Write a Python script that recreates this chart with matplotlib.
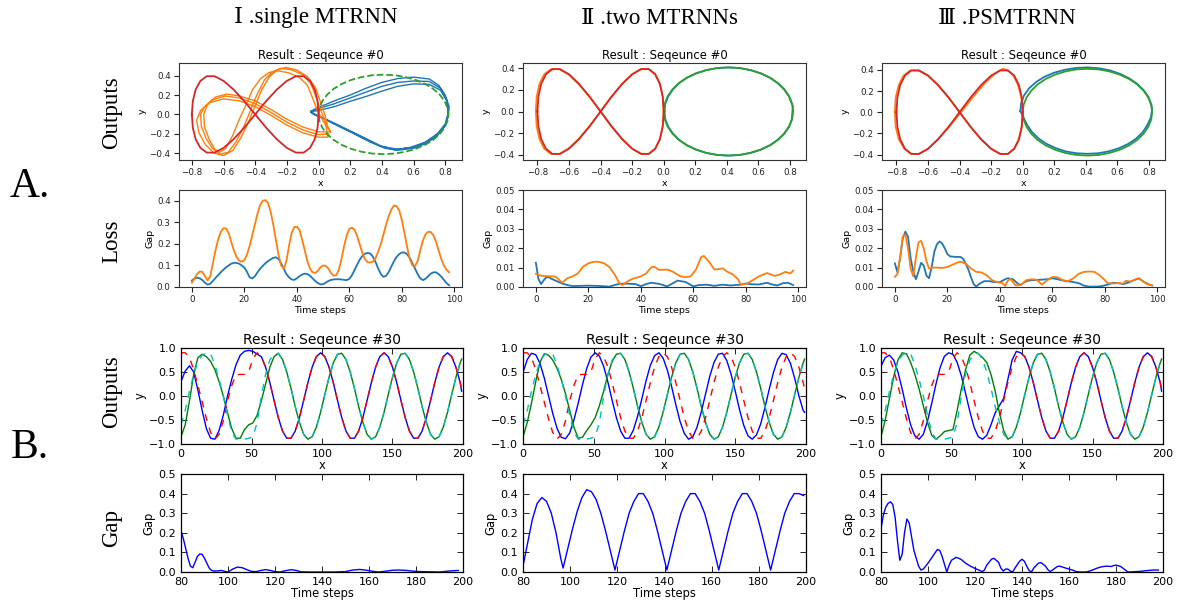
import numpy as np
import matplotlib
matplotlib.use("Agg")
import matplotlib.pyplot as plt

# ---------------- DATA ----------------
# Row A: 2-D trajectories (Sequence #0)
FIG8_X = [-0.8, -0.794, -0.776, -0.746, -0.706, -0.657, -0.6, -0.537, -0.469, -0.4, -0.331, -0.263, -0.2, -0.143, -0.094, -0.054, -0.024, -0.006, 0.0,
          -0.006, -0.024, -0.054, -0.094, -0.143, -0.2, -0.263, -0.331, -0.4, -0.469, -0.537, -0.6, -0.657, -0.706, -0.746, -0.776, -0.794, -0.8]
FIG8_Y = [0, 0.137, 0.257, 0.346, 0.394, 0.394, 0.346, 0.257, 0.137, 0, -0.137, -0.257, -0.346, -0.394, -0.394, -0.346, -0.257, -0.137, 0,
          0.137, 0.257, 0.346, 0.394, 0.394, 0.346, 0.257, 0.137, 0, -0.137, -0.257, -0.346, -0.394, -0.394, -0.346, -0.257, -0.137, 0]
ELL_X = [0, 0.006, 0.025, 0.055, 0.096, 0.146, 0.205, 0.27, 0.339, 0.41, 0.481, 0.55, 0.615, 0.674, 0.724, 0.765, 0.795, 0.814, 0.82,
         0.814, 0.795, 0.765, 0.724, 0.674, 0.615, 0.55, 0.481, 0.41, 0.339, 0.27, 0.205, 0.146, 0.096, 0.055, 0.025, 0.006, 0]
ELL_Y = [0, 0.071, 0.14, 0.205, 0.264, 0.314, 0.355, 0.385, 0.404, 0.41, 0.404, 0.385, 0.355, 0.314, 0.264, 0.205, 0.14, 0.071, 0,
         -0.071, -0.14, -0.205, -0.264, -0.314, -0.355, -0.385, -0.404, -0.41, -0.404, -0.385, -0.355, -0.314, -0.264, -0.205, -0.14, -0.071, 0]

# single MTRNN outputs
BLUE1_X = [-0.05, 0.0, 0.05, 0.1, 0.2, 0.3, 0.4, 0.5, 0.6, 0.7, 0.76, 0.8, 0.825, 0.82, 0.8, 0.75, 0.68, 0.6, 0.5, 0.42, 0.32, 0.2, 0.1, 0.03, -0.03,
           -0.05, 0.0, 0.1, 0.2, 0.3, 0.4, 0.5, 0.6, 0.7, 0.77, 0.81, 0.82, 0.81, 0.77, 0.7, 0.6, 0.5, 0.4, 0.3, 0.2, 0.1, 0.02, -0.04,
           -0.05, 0.0, 0.1, 0.2, 0.3, 0.4, 0.5, 0.6, 0.7, 0.77, 0.81, 0.82, 0.8, 0.75, 0.67, 0.58, 0.48, 0.38, 0.28, 0.18, 0.08, 0.0, -0.04]
BLUE1_Y = [0.03, 0.075, 0.105, 0.14, 0.2, 0.27, 0.33, 0.37, 0.385, 0.365, 0.3, 0.2, 0.08, -0.02, -0.12, -0.22, -0.3, -0.35, -0.37, -0.35, -0.28, -0.18, -0.1, -0.04, 0.0,
           0.03, 0.06, 0.11, 0.17, 0.23, 0.29, 0.33, 0.345, 0.34, 0.27, 0.15, 0.03, -0.08, -0.18, -0.27, -0.34, -0.36, -0.33, -0.25, -0.17, -0.09, -0.03, 0.01,
           0.03, 0.04, 0.08, 0.135, 0.185, 0.24, 0.29, 0.315, 0.31, 0.25, 0.14, 0.02, -0.1, -0.2, -0.29, -0.34, -0.365, -0.32, -0.24, -0.16, -0.08, -0.02, 0.02]
ORANGE1_X = [0.065, 0.0, -0.1, -0.2, -0.3, -0.4, -0.5, -0.59, -0.67, -0.72, -0.745, -0.74, -0.71, -0.67, -0.62, -0.57, -0.52, -0.47, -0.43, -0.39,
             -0.34, -0.29, -0.24, -0.17, -0.1, -0.05, -0.02, 0.01, 0.04,
             0.06, 0.0, -0.1, -0.2, -0.3, -0.4, -0.5, -0.6, -0.69, -0.745, -0.77, -0.755, -0.715, -0.66, -0.6, -0.54, -0.49, -0.44, -0.4, -0.36,
             -0.31, -0.26, -0.21, -0.14, -0.07, -0.02, 0.01, 0.04, 0.055,
             0.075, 0.0, -0.1, -0.2, -0.3, -0.4, -0.5, -0.58, -0.65, -0.7, -0.725, -0.72, -0.69, -0.655, -0.625, -0.585, -0.54, -0.5, -0.455, -0.415,
             -0.365, -0.315, -0.26, -0.19, -0.12, -0.07, -0.04, -0.01, 0.03, 0.075]
ORANGE1_Y = [-0.2, -0.21, -0.16, -0.08, 0.02, 0.11, 0.17, 0.19, 0.15, 0.08, 0.0, -0.12, -0.25, -0.35, -0.41, -0.39, -0.28, -0.12, 0.04, 0.2,
             0.36, 0.44, 0.475, 0.46, 0.41, 0.32, 0.2, 0.06, -0.06,
             -0.235, -0.235, -0.19, -0.11, -0.01, 0.08, 0.14, 0.16, 0.12, 0.04, -0.06, -0.19, -0.31, -0.4, -0.425, -0.37, -0.24, -0.07, 0.09, 0.25,
             0.39, 0.46, 0.485, 0.46, 0.39, 0.28, 0.14, 0.0, -0.11,
             -0.18, -0.18, -0.13, -0.05, 0.05, 0.14, 0.19, 0.21, 0.18, 0.11, 0.0, -0.13, -0.26, -0.36, -0.39, -0.35, -0.21, -0.05, 0.11, 0.26,
             0.37, 0.43, 0.45, 0.43, 0.38, 0.3, 0.18, 0.05, -0.07, -0.18]

# two MTRNNs outputs
BLUE2_X = [0.005, 0.01, 0.028, 0.058, 0.098, 0.148, 0.206, 0.27, 0.339, 0.41, 0.481, 0.55, 0.614, 0.673, 0.722, 0.763, 0.794, 0.812, 0.818,
           0.812, 0.794, 0.763, 0.722, 0.673, 0.614, 0.55, 0.481, 0.41, 0.339, 0.27, 0.206, 0.148, 0.098, 0.058, 0.028, 0.01, 0.005]
BLUE2_Y = [0.0, 0.071, 0.14, 0.205, 0.264, 0.314, 0.355, 0.385, 0.404, 0.41, 0.404, 0.385, 0.355, 0.314, 0.264, 0.205, 0.14, 0.071, 0.05,
           -0.071, -0.14, -0.205, -0.264, -0.314, -0.355, -0.385, -0.404, -0.41, -0.404, -0.385, -0.355, -0.314, -0.264, -0.205, -0.14, -0.071, 0.0]
ORANGE2_X = [-0.81, -0.805, -0.787, -0.757, -0.715, -0.663, -0.604, -0.54, -0.47, -0.4, -0.331, -0.263, -0.2, -0.143, -0.094, -0.054, -0.024, -0.006, 0.0,
             -0.006, -0.024, -0.054, -0.094, -0.143, -0.2, -0.263, -0.331, -0.4, -0.47, -0.54, -0.604, -0.663, -0.715, -0.757, -0.787, -0.805, -0.81]
ORANGE2_Y = [0, 0.137, 0.257, 0.346, 0.392, 0.394, 0.346, 0.257, 0.137, 0, -0.137, -0.257, -0.346, -0.394, -0.394, -0.346, -0.257, -0.137, 0,
             0.137, 0.257, 0.346, 0.394, 0.396, 0.346, 0.257, 0.137, 0, -0.137, -0.257, -0.346, -0.396, -0.394, -0.346, -0.257, -0.137, 0]

# PSMTRNN outputs
BLUE3_X = [-0.015, -0.01, 0.008, 0.04, 0.083, 0.135, 0.197, 0.265, 0.337, 0.41, 0.483, 0.553, 0.617, 0.677, 0.727, 0.768, 0.798, 0.815, 0.82,
           0.812, 0.79, 0.76, 0.718, 0.668, 0.61, 0.545, 0.478, 0.41, 0.34, 0.272, 0.21, 0.152, 0.102, 0.06, 0.03, 0.008, -0.015]
BLUE3_Y = [0.01, 0.085, 0.158, 0.225, 0.283, 0.332, 0.372, 0.4, 0.418, 0.423, 0.415, 0.395, 0.362, 0.318, 0.265, 0.205, 0.14, 0.07, 0.03,
           -0.05, -0.12, -0.19, -0.25, -0.3, -0.34, -0.37, -0.388, -0.393, -0.388, -0.37, -0.34, -0.3, -0.25, -0.19, -0.125, -0.06, 0.01]
ORANGE3_X = [-0.81, -0.805, -0.785, -0.755, -0.712, -0.66, -0.6, -0.537, -0.469, -0.4, -0.331, -0.263, -0.2, -0.143, -0.094, -0.054, -0.024, -0.006, 0.0,
             -0.008, -0.03, -0.06, -0.1, -0.128, -0.18, -0.243, -0.311, -0.385, -0.465, -0.537, -0.6, -0.657, -0.706, -0.75, -0.785, -0.805, -0.81]
ORANGE3_Y = [0, 0.137, 0.257, 0.346, 0.394, 0.394, 0.346, 0.257, 0.137, 0, -0.137, -0.257, -0.346, -0.394, -0.394, -0.346, -0.257, -0.137, 0,
             0.137, 0.257, 0.35, 0.4, 0.41, 0.36, 0.27, 0.15, 0.01, -0.137, -0.257, -0.346, -0.394, -0.394, -0.346, -0.257, -0.137, 0]

# Row A: loss curves
LOSS1_T = list(range(99))
LOSS1_BLUE = [.03, .04, .043, .04, .032, .02, .011, .015, .028, .042, .055, .068, .08, .091, .1, .108, .112, .112, .108, .1,
              .09, .07, .045, .04, .05, .068, .085, .098, .11, .12, .128, .135, .138, .13, .11, .085, .06, .045, .035, .033,
              .04, .05, .058, .062, .06, .052, .04, .028, .018, .012, .013, .02, .028, .033, .035, .036, .036, .035, .033, .032,
              .038, .055, .08, .105, .128, .145, .155, .158, .155, .14, .115, .085, .06, .047, .052, .07, .095, .12, .14, .153,
              .16, .16, .152, .135, .11, .085, .06, .04, .032, .038, .05, .062, .068, .068, .06, .048, .033, .018, .008]
LOSS1_ORANGE = [.02, .04, .06, .072, .07, .05, .03, .05, .11, .17, .22, .255, .272, .272, .25, .21, .17, .14, .122, .117,
                .125, .15, .19, .24, .29, .34, .38, .4, .403, .39, .35, .29, .22, .15, .1, .085, .12, .19, .25, .278,
                .28, .265, .22, .17, .12, .085, .068, .065, .075, .092, .1, .098, .085, .065, .052, .055, .08, .13, .19, .24,
                .27, .275, .265, .235, .195, .155, .128, .115, .113, .118, .135, .165, .2, .245, .29, .33, .36, .378, .375, .355,
                .31, .25, .185, .13, .1, .097, .12, .17, .215, .245, .256, .255, .24, .21, .17, .13, .1, .08, .068]

LOSS2_BLUE_T = [0, 1, 2, 3, 4, 5, 6, 8, 10, 12, 14, 17, 20, 23, 26, 28, 30, 32, 35, 38, 40, 42, 44, 47, 50, 52, 54, 57, 60, 62,
                65, 68, 71, 74, 78, 80, 82, 85, 88, 90, 92, 94, 96, 98]
LOSS2_BLUE = [0.0125, 0.004, 0.0015, 0.0035, 0.005, 0.005, 0.0042, 0.003, 0.0018, 0.001, 0.0005, 0.0006, 0.0007, 0.0006, 0.0004,
              0.0002, 0.001, 0.0017, 0.0017, 0.0015, 0.0004, 0.0015, 0.0022, 0.0016, 0.0003, 0.0018, 0.0033, 0.0026, 0.0003, 0.001,
              0.0012, 0.0006, 0.0012, 0.0008, 0.0012, 0.0018, 0.0014, 0.0013, 0.0022, 0.0013, 0.0008, 0.0019, 0.0022, 0.001]
LOSS2_ORANGE_T = [0, 2, 5, 7, 8, 10, 12, 14, 16, 18, 20, 22, 24, 26, 28, 30, 32, 33, 35, 37, 40, 42, 44, 45, 47, 50, 52, 55, 57, 59,
                  61, 63, 64, 66, 68, 70, 71, 73, 75, 77, 78, 80, 82, 85, 88, 90, 91, 93, 95, 97, 98]
LOSS2_ORANGE = [0.0068, 0.0058, 0.0055, 0.0055, 0.0048, 0.0022, 0.0045, 0.0055, 0.007, 0.0105, 0.0122, 0.013, 0.013, 0.0122, 0.0103,
                0.0065, 0.0015, 0.001, 0.003, 0.0043, 0.0055, 0.007, 0.0102, 0.0105, 0.0088, 0.009, 0.008, 0.0055, 0.005, 0.0055,
                0.009, 0.0155, 0.016, 0.013, 0.009, 0.0093, 0.0097, 0.0078, 0.0065, 0.004, 0.0013, 0.0015, 0.003, 0.0055, 0.0072,
                0.0062, 0.0057, 0.0065, 0.0078, 0.007, 0.0085]

LOSS3_BLUE_T = [0, 1, 2, 3, 4, 5, 6, 7, 8, 9, 10, 11, 12, 13, 14, 15, 16, 17, 18, 19, 20, 21, 23, 25, 26, 27, 28, 29, 30, 31, 32,
                34, 36, 38, 40, 42, 43, 45, 47, 48, 50, 52, 55, 58, 60, 62, 65, 67, 70, 72, 74, 77, 79, 81, 83, 85, 87, 89, 91, 93,
                95, 97, 98]
LOSS3_BLUE = [0.0122, 0.0075, 0.015, 0.025, 0.0285, 0.026, 0.015, 0.008, 0.004, 0.008, 0.0125, 0.011, 0.006, 0.0045, 0.01,
              0.018, 0.022, 0.0235, 0.0225, 0.02, 0.017, 0.0158, 0.0155, 0.0155, 0.0145, 0.012, 0.009, 0.005, 0.0015, 0.0002,
              0.0015, 0.003, 0.003, 0.0025, 0.0025, 0.004, 0.0045, 0.004, 0.0015, 0.0012, 0.003, 0.0035, 0.0037, 0.004, 0.0045,
              0.004, 0.003, 0.0028, 0.002, 0.0007, 0.0002, 0.0002, 0.0005, 0.0012, 0.0022, 0.002, 0.0015, 0.0023, 0.0035, 0.0045,
              0.0025, 0.0012, 0.0008]
LOSS3_ORANGE_T = [0, 1, 2, 3, 4, 5, 6, 7, 8, 9, 10, 11, 12, 13, 14, 16, 18, 20, 22, 24, 25, 27, 29, 31, 33, 35, 37, 39, 41, 42,
                  43, 44, 45, 46, 48, 50, 52, 54, 56, 58, 60, 62, 64, 66, 68, 70, 72, 74, 76, 78, 80, 81, 83, 85, 87, 88, 90, 92,
                  93, 95, 96, 97, 98]
LOSS3_ORANGE = [0.0052, 0.0068, 0.015, 0.026, 0.027, 0.02, 0.0095, 0.0055, 0.015, 0.023, 0.0238, 0.02, 0.0135, 0.0095, 0.01,
                0.01, 0.0098, 0.0103, 0.0115, 0.0127, 0.013, 0.012, 0.0095, 0.0078, 0.0075, 0.006, 0.0035, 0.0025, 0.002, 0.0005,
                0.0032, 0.0042, 0.0025, 0.0008, 0.001, 0.0035, 0.004, 0.0038, 0.0012, 0.0035, 0.0052, 0.005, 0.0035, 0.003, 0.0045,
                0.0068, 0.0078, 0.008, 0.0078, 0.006, 0.0035, 0.002, 0.0018, 0.002, 0.0018, 0.0032, 0.0028, 0.0042, 0.0043, 0.0025,
                0.0015, 0.0012, 0.0008]

# Row B: time series (Sequence #30), sampled every 3 steps plus the final step
TB = list(range(0, 199, 3)) + [199]
TARGET_1 = [0.9, 0.9, 0.8, 0.55, 0.22, -0.12, -0.47, -0.76, -0.9, -0.8, -0.52, -0.1, 0.22, 0.44, 0.45, 0.45, 0.5, 0.78,
            0.9, 0.82, 0.6, 0.28, -0.09, -0.45, -0.73, -0.88, -0.88, -0.73, -0.45, -0.09, 0.28, 0.6, 0.82,
            0.9, 0.82, 0.6, 0.28, -0.09, -0.45, -0.73, -0.88, -0.88, -0.73, -0.45, -0.09, 0.28, 0.6, 0.82,
            0.9, 0.82, 0.6, 0.28, -0.09, -0.45, -0.73, -0.88, -0.88, -0.73, -0.45, -0.09, 0.28, 0.6, 0.82,
            0.9, 0.82, 0.6, 0.28, 0.16]
TARGET_2 = [-0.6, -0.3, 0.1, 0.45, 0.72, 0.85, 0.9, 0.88, 0.65, 0.35, 0.0, -0.4, -0.75, -0.9, -0.9, -0.9, -0.88, -0.85, -0.55,
            0.0, 0.45, 0.75, 0.87,
            0.89, 0.76, 0.5, 0.16, -0.22, -0.55, -0.8, -0.9, -0.85, -0.65, -0.34, 0.03, 0.39, 0.69, 0.87,
            0.89, 0.76, 0.5, 0.16, -0.22, -0.55, -0.8, -0.9, -0.85, -0.65, -0.34, 0.03, 0.39, 0.69, 0.87,
            0.89, 0.76, 0.5, 0.16, -0.22, -0.55, -0.8, -0.9, -0.85, -0.65, -0.34, 0.03, 0.39, 0.69, 0.76]
OUT1_SINGLE = [0.3, 0.52, 0.63, 0.5, 0.12, -0.3, -0.68, -0.88, -0.9, -0.72, -0.4, 0.0, 0.35, 0.65, 0.85, 0.93, 0.95, 0.93, 0.87,
               0.82, 0.6, 0.28, -0.09, -0.45, -0.73, -0.88, -0.88, -0.73, -0.45, -0.09, 0.28, 0.6, 0.82,
               0.9, 0.82, 0.6, 0.28, -0.09, -0.45, -0.73, -0.88, -0.88, -0.73, -0.45, -0.09, 0.28, 0.6, 0.82,
               0.9, 0.82, 0.6, 0.28, -0.09, -0.45, -0.73, -0.88, -0.88, -0.73, -0.45, -0.09, 0.28, 0.6, 0.82,
               0.9, 0.82, 0.6, 0.28, 0.1]
OUT2_SINGLE = [-0.85, -0.6, -0.1, 0.45, 0.8, 0.87, 0.82, 0.72, 0.55, 0.3, 0.0, -0.35, -0.68, -0.88, -0.88, -0.7, -0.6, -0.56,
               -0.4, -0.1, 0.25, 0.6, 0.82,
               0.89, 0.76, 0.5, 0.16, -0.22, -0.55, -0.8, -0.9, -0.85, -0.65, -0.34, 0.03, 0.39, 0.69, 0.87,
               0.89, 0.76, 0.5, 0.16, -0.22, -0.55, -0.8, -0.9, -0.85, -0.65, -0.34, 0.03, 0.39, 0.69, 0.87,
               0.89, 0.76, 0.5, 0.16, -0.22, -0.55, -0.8, -0.9, -0.85, -0.65, -0.34, 0.03, 0.39, 0.69, 0.77]
OUT1_TWO = [0.49, 0.76, 0.89, 0.86, 0.68, 0.38, 0.01, -0.36, -0.67, -0.86, -0.89, -0.77, -0.5, -0.15, 0.23, 0.57, 0.81, 0.9,
            0.83, 0.62, 0.29, -0.09, -0.45, -0.73, -0.88, -0.88, -0.71, -0.42, -0.06, 0.32, 0.64, 0.84, 0.9, 0.79,
            0.54, 0.2, -0.18, -0.53, -0.78, -0.9, -0.85, -0.65, -0.33, 0.04, 0.41, 0.7, 0.87, 0.89, 0.74, 0.46,
            0.1, -0.28, -0.61, -0.83, -0.9, -0.81, -0.58, -0.24, 0.14, 0.49, 0.76, 0.89, 0.86, 0.68, 0.37, 0.0,
            -0.3, -0.34]
OUT2_TWO = [-0.85, -0.55, -0.15, 0.3, 0.7, 0.88, 0.85, 0.75, 0.58, 0.35, 0.05, -0.3, -0.65, -0.88, -0.86, -0.72, -0.6, -0.45,
            -0.2, 0.1, 0.45, 0.72, 0.87,
            0.89, 0.76, 0.5, 0.16, -0.22, -0.55, -0.8, -0.9, -0.85, -0.65, -0.34, 0.03, 0.39, 0.69, 0.87,
            0.89, 0.76, 0.5, 0.16, -0.22, -0.55, -0.8, -0.9, -0.85, -0.65, -0.34, 0.03, 0.39, 0.69, 0.87,
            0.89, 0.76, 0.5, 0.16, -0.22, -0.55, -0.8, -0.9, -0.85, -0.65, -0.34, 0.03, 0.39, 0.69, 0.77]
OUT1_PS = [0.62, 0.8, 0.85, 0.75, 0.5, 0.15, -0.25, -0.6, -0.83, -0.9, -0.8, -0.52, -0.15, 0.25, 0.6, 0.83, 0.9, 0.87, 0.7,
           0.42, 0.05, -0.32, -0.65, -0.85, -0.9, -0.82, -0.6, -0.35, -0.2, -0.05, 0.35, 0.75, 0.93, 0.9,
           0.82, 0.6, 0.28, -0.09, -0.45, -0.73, -0.88, -0.88, -0.73, -0.45, -0.09, 0.28, 0.6, 0.82,
           0.9, 0.82, 0.6, 0.28, -0.09, -0.45, -0.73, -0.88, -0.88, -0.73, -0.45, -0.09, 0.28, 0.6, 0.82,
           0.9, 0.82, 0.6, 0.28, 0.1]
OUT2_PS = [-0.85, -0.5, -0.05, 0.4, 0.75, 0.9, 0.88, 0.7, 0.45, 0.15, -0.2, -0.55, -0.82, -0.9, -0.83, -0.74, -0.72, -0.7,
           -0.3, 0.15, 0.55, 0.85, 0.93, 0.88, 0.8, 0.7, 0.45, 0.1, -0.35, -0.72, -0.9, -0.85,
           -0.65, -0.34, 0.03, 0.39, 0.69, 0.87,
           0.89, 0.76, 0.5, 0.16, -0.22, -0.55, -0.8, -0.9, -0.85, -0.65, -0.34, 0.03, 0.39, 0.69, 0.87,
           0.89, 0.76, 0.5, 0.16, -0.22, -0.55, -0.8, -0.9, -0.85, -0.65, -0.34, 0.03, 0.39, 0.69, 0.77]

# Row B: gap curves
GAP1_T = [80, 81, 82, 83, 84, 85, 86, 87, 88, 89, 90, 91, 92, 93, 94, 96, 97, 99, 100, 102, 104, 106, 108, 110, 112,
          114, 116, 118, 120, 122, 125, 127, 129, 131, 135, 140, 145, 150, 153, 156, 159, 162, 164, 167, 170,
          173, 176, 179, 182, 186, 190, 194, 198]
GAP1 = [0.21, 0.17, 0.12, 0.07, 0.03, 0.022, 0.05, 0.08, 0.092, 0.09, 0.07, 0.045, 0.02, 0.008, 0.005, 0.006, 0.008, 0.002,
        0.0, 0.015, 0.025, 0.022, 0.012, 0.003, 0.002, 0.008, 0.012, 0.008, 0.002, 0.0, 0.008, 0.012, 0.008, 0.001, 0.0,
        0.0, 0.0, 0.002, 0.01, 0.013, 0.009, 0.003, 0.0, 0.004, 0.009, 0.01, 0.008, 0.004, 0.002, 0.001, 0.0, 0.005, 0.008]
GAP2_T = [80, 82, 84, 86, 88, 90, 92, 94, 96, 97, 99, 101, 103, 105, 107, 109, 111, 113, 115, 117, 119, 121, 123, 125, 127,
          129, 131, 133, 135, 137, 139, 141, 143, 145, 147, 149, 151, 153, 155, 157, 159, 161, 163, 165, 167, 169, 171,
          173, 175, 177, 179, 181, 183, 185, 187, 189, 191, 193, 195, 197, 199]
GAP2 = [0.03, 0.15, 0.27, 0.35, 0.38, 0.36, 0.3, 0.2, 0.07, 0.02,
        0.12, 0.22, 0.31, 0.38, 0.42, 0.41, 0.37, 0.3, 0.21, 0.11, 0.01,
        0.11, 0.21, 0.3, 0.36, 0.4, 0.4, 0.36, 0.3, 0.21, 0.11, 0.01,
        0.11, 0.21, 0.3, 0.36, 0.4, 0.4, 0.36, 0.3, 0.21, 0.11, 0.01,
        0.11, 0.21, 0.3, 0.36, 0.4, 0.4, 0.36, 0.3, 0.21, 0.11, 0.01,
        0.11, 0.21, 0.3, 0.36, 0.4, 0.4, 0.39]
GAP3_T = [80, 81, 82, 83, 84, 85, 86, 87, 88, 89, 90, 91, 92, 93, 94, 95, 96, 97, 98, 100, 102, 104, 105, 106, 107, 108,
          109, 110, 112, 114, 116, 118, 120, 122, 123, 124, 125, 127, 128, 130, 131, 132, 133, 134, 135, 136, 137, 139,
          140, 141, 142, 143, 144, 145, 147, 148, 150, 151, 152, 153, 155, 156, 158, 160, 162, 163, 165, 167, 168, 170,
          172, 174, 176, 178, 179, 180, 182, 184, 185, 187, 190, 193, 196, 198]
GAP3 = [0.22, 0.29, 0.33, 0.35, 0.358, 0.345, 0.28, 0.16, 0.06, 0.09, 0.2, 0.27, 0.25, 0.18, 0.11, 0.07, 0.03, 0.01, 0.015,
        0.045, 0.08, 0.115, 0.11, 0.08, 0.04, 0.0, 0.035, 0.06, 0.075, 0.065, 0.045, 0.03, 0.018, 0.008, 0.002, 0.01,
        0.035, 0.065, 0.07, 0.05, 0.02, 0.005, 0.015, 0.015, 0.005, 0.0, 0.02, 0.055, 0.065, 0.055, 0.03, 0.008, 0.0,
        0.02, 0.045, 0.048, 0.03, 0.012, 0.002, 0.01, 0.028, 0.03, 0.022, 0.015, 0.008, 0.002, 0.0, 0.0, 0.002, 0.01,
        0.02, 0.027, 0.03, 0.028, 0.033, 0.035, 0.028, 0.01, 0.0, 0.001, 0.003, 0.007, 0.01, 0.01]

COL_TITLES = ["Ⅰ .single MTRNN", "Ⅱ .two MTRNNs", "Ⅲ .PSMTRNN"]
ROW_LABELS = ["Outputs", "Loss", "Outputs", "Gap"]
SECTION_LABELS = ["A.", "B."]

# ---------------- FIGURE ----------------
W, H = 1177, 605
fig = plt.figure(figsize=(W / 100, H / 100), dpi=100)


def box(l, t, r, b):
    return [l / W, 1 - b / H, (r - l) / W, (b - t) / H]


C0, C1, C2, C3 = "#1f77b4", "#ff7f0e", "#2ca02c", "#d62728"
SERIF = ["Liberation Serif", "DejaVu Serif", "Noto Sans CJK SC"]


def style_a(ax):
    ax.tick_params(labelsize=6.3, length=3.5, width=0.8, direction="out", pad=2.5, colors="#222222")
    for s in ax.spines.values():
        s.set_linewidth(0.8)
        s.set_color("#333333")


def style_b(ax):
    ax.tick_params(labelsize=8, length=4, width=0.6, direction="in", top=True, right=True, pad=3.5)
    for s in ax.spines.values():
        s.set_linewidth(0.9)
        s.set_color("black")


cols_a = [(179, 462), (523, 806), (882, 1165)]
cols_b = [(181, 463), (523, 806), (881, 1163)]

traj = [
    dict(bx=BLUE1_X, by=BLUE1_Y, ox=ORANGE1_X, oy=ORANGE1_Y, gdash=True, lw=1.0),
    dict(bx=BLUE2_X, by=BLUE2_Y, ox=ORANGE2_X, oy=ORANGE2_Y, gdash=False, lw=1.3),
    dict(bx=BLUE3_X, by=BLUE3_Y, ox=ORANGE3_X, oy=ORANGE3_Y, gdash=False, lw=1.3),
]
losses = [
    (LOSS1_T, LOSS1_BLUE, LOSS1_T, LOSS1_ORANGE, 0.45, [0.0, 0.1, 0.2, 0.3, 0.4], "{:.1f}"),
    (LOSS2_BLUE_T, LOSS2_BLUE, LOSS2_ORANGE_T, LOSS2_ORANGE, 0.05, [0, 0.01, 0.02, 0.03, 0.04, 0.05], "{:.2f}"),
    (LOSS3_BLUE_T, LOSS3_BLUE, LOSS3_ORANGE_T, LOSS3_ORANGE, 0.05, [0, 0.01, 0.02, 0.03, 0.04, 0.05], "{:.2f}"),
]
outs_b = [(OUT1_SINGLE, OUT2_SINGLE), (OUT1_TWO, OUT2_TWO), (OUT1_PS, OUT2_PS)]
gaps = [(GAP1_T, GAP1), (GAP2_T, GAP2), (GAP3_T, GAP3)]

for i in range(3):
    l, r = cols_a[i]
    # --- Row A outputs
    ax = fig.add_axes(box(l, 63, r, 160))
    d = traj[i]
    lw = d["lw"]
    ax.plot(d["bx"], d["by"], color=C0, lw=lw)
    ax.plot(d["ox"], d["oy"], color=C1, lw=lw)
    if d["gdash"]:
        ax.plot(ELL_X, ELL_Y, color=C2, lw=1.3, ls="--", dashes=(3.7, 1.6))
    else:
        ax.plot(ELL_X, ELL_Y, color=C2, lw=1.3)
    ax.plot(FIG8_X, FIG8_Y, color=C3, lw=1.3)
    ax.set_xticks([-0.8, -0.6, -0.4, -0.2, 0.0, 0.2, 0.4, 0.6, 0.8])
    ax.set_yticks([-0.4, -0.2, 0.0, 0.2, 0.4])
    ax.set_title("Result : Seqeunce #0", fontsize=8.4, pad=3)
    ax.set_xlabel("x", fontsize=6.8, labelpad=1)
    ax.set_ylabel("y", fontsize=6.8, labelpad=2)
    style_a(ax)

    # --- Row A loss
    ax = fig.add_axes(box(l, 190, r, 287))
    bt, bv, ot, ov, ytop, yt, fmt = losses[i]
    ax.plot(bt, bv, color=C0, lw=1.3)
    ax.plot(ot, ov, color=C1, lw=1.3)
    ax.set_ylim(0, ytop)
    ax.set_xticks([0, 20, 40, 60, 80, 100])
    ax.set_yticks(yt)
    ax.set_yticklabels([fmt.format(v) for v in yt])
    ax.set_xlabel("Time steps", fontsize=6.8, labelpad=1)
    ax.set_ylabel("Gap", fontsize=6.8, labelpad=2)
    style_a(ax)

    # --- Row B outputs
    l, r = cols_b[i]
    ax = fig.add_axes(box(l, 348, r, 444))
    o1, o2 = outs_b[i]
    ax.plot(TB, o1, color="b", lw=1.0)
    ax.plot(TB, o2, color="g", lw=1.0)
    ax.plot(TB, TARGET_1, color="r", lw=1.0, ls="--", dashes=(5, 5))
    ax.plot(TB, TARGET_2, color="c", lw=1.0, ls="--", dashes=(5, 5))
    ax.set_xlim(0, 200)
    ax.set_ylim(-1, 1)
    ax.set_xticks([0, 50, 100, 150, 200])
    ax.set_yticks([-1.0, -0.5, 0.0, 0.5, 1.0])
    ax.set_title("Result : Seqeunce #30", fontsize=10, pad=3)
    ax.set_xlabel("x", fontsize=8.3, labelpad=0)
    ax.set_ylabel("y", fontsize=8.3, labelpad=2)
    style_b(ax)

    # --- Row B gap
    ax = fig.add_axes(box(l, 474, r, 572))
    gt, gv = gaps[i]
    ax.plot(gt, gv, color="b", lw=1.0)
    ax.set_xlim(80, 200)
    ax.set_ylim(0, 0.5)
    ax.set_xticks([80, 100, 120, 140, 160, 180, 200])
    ax.set_yticks([0.0, 0.1, 0.2, 0.3, 0.4, 0.5])
    ax.set_xlabel("Time steps", fontsize=8.3, labelpad=0)
    ax.set_ylabel("Gap", fontsize=8.3, labelpad=2)
    style_b(ax)

# Column headers
for txt, cx in zip(COL_TITLES, [316, 660, 1007]):
    fig.text(cx / W, 1 - 18 / H, txt, ha="center", va="center", fontsize=16.5, family=SERIF)

# Row labels
for txt, cy in zip(ROW_LABELS, [113, 241, 392, 528]):
    fig.text(112 / W, 1 - cy / H, txt, ha="center", va="center", rotation=90, fontsize=16.5, family=SERIF)

for txt, cy in zip(SECTION_LABELS, [187, 448]):
    fig.text(30 / W, 1 - cy / H, txt, ha="center", va="center", fontsize=30, family=SERIF)

fig.savefig("out.png", dpi=100)
